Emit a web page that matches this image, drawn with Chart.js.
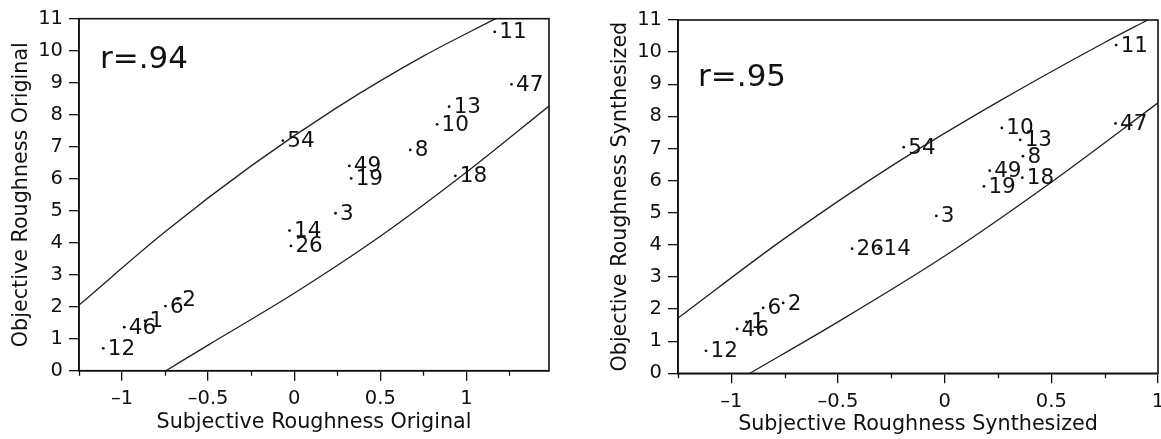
<!DOCTYPE html>
<html><head><meta charset="utf-8">
<script src="https://cdn.jsdelivr.net/npm/chart.js@4/dist/chart.umd.min.js"></script>
<style>
html,body{margin:0;padding:0;background:#fff;width:1161px;height:439px;overflow:hidden}
.box{position:absolute;top:0;height:439px}
#b1{left:0;width:580px}
#b2{left:580px;width:581px}
</style></head><body>
<div class="box" id="b1"><canvas id="c1"></canvas></div>
<div class="box" id="b2"><canvas id="c2"></canvas></div>
<script>
// ---------- data ----------
const LEFT_IDS = ['54','13','10','8','49','19','18','3','14','26','11','47','12','46','1','6','2'];
const LEFT_X   = [-0.066, 0.90, 0.83, 0.674, 0.32, 0.331, 0.936, 0.24, -0.027, -0.019, 1.165, 1.262, -1.109, -0.987, -0.866, -0.748, -0.676];
const LEFT_Y   = [7.19, 8.25, 7.70, 6.90, 6.40, 6.01, 6.09, 4.92, 4.38, 3.90, 10.59, 8.95, 0.70, 1.36, 1.56, 2.02, 2.23];

const RIGHT_IDS = ['54','13','10','8','49','19','18','3','14','26','11','47','12','46','1','6','2'];
const RIGHT_X   = [-0.192, 0.354, 0.268, 0.367, 0.211, 0.184, 0.364, -0.039, -0.308, -0.434, 0.804, 0.801, -1.119, -0.973, -0.929, -0.851, -0.757];
const RIGHT_Y   = [7.04, 7.27, 7.64, 6.76, 6.31, 5.82, 6.09, 4.90, 3.88, 3.88, 10.22, 7.78, 0.70, 1.38, 1.60, 2.04, 2.19];

const LEFT_UPPER_X = [-1.25, -0.75, -0.25, 0.25, 0.75, 1.17];
const LEFT_UPPER_Y = [2.05, 4.34, 6.4, 8.23, 9.83, 11.0];
const LEFT_LOWER_X = [-0.745, -0.5, 0, 0.5, 1.0, 1.48];
const LEFT_LOWER_Y = [0, 0.8, 2.42, 4.2, 6.2, 8.27];

const RIGHT_UPPER_X = [-1.25, -0.75, -0.25, 0.25, 0.75, 0.952];
const RIGHT_UPPER_Y = [1.72, 4.2, 6.45, 8.45, 10.3, 11.0];
const RIGHT_LOWER_X = [-0.913, -0.5, 0, 0.5, 1.0];
const RIGHT_LOWER_Y = [0, 1.6, 3.65, 5.95, 8.42];

const X_TICKS = [-1, -0.5, 0, 0.5, 1];
const X_TICK_LABELS = ['\u20131', '\u20130.5', '0', '0.5', '1'];
const X_MINOR = [-1.25, -0.75, -0.25, 0.25, 0.75, 1.25];
const Y_TICKS = [0,1,2,3,4,5,6,7,8,9,10,11];

const LEFT_R = {text: 'r=.94', x: -1.128, y: 9.71};
const RIGHT_R = {text: 'r=.95', x: -1.156, y: 9.2};

// ---------- helpers ----------
const FONT = "'DejaVu Sans', sans-serif";
const zip = (xs, ys) => xs.map((x, i) => ({x, y: ys[i]}));

const decorPlugin = {
  id: 'decor',
  afterDraw(chart) {
    const o = chart.options.plugins.decor;
    const ctx = chart.ctx, ca = chart.chartArea;
    const xs = chart.scales.x, ys = chart.scales.y;
    ctx.save();
    // frame
    ctx.strokeStyle = '#111'; ctx.lineWidth = 1.6;
    ctx.strokeRect(ca.left, ca.top, ca.right - ca.left, ca.bottom - ca.top);
    // minor ticks
    ctx.lineWidth = 1.3;
    ctx.beginPath();
    X_MINOR.forEach(v => {
      if (v < xs.min - 1e-9 || v > xs.max + 1e-9) return;
      const px = Math.round(xs.getPixelForValue(v)) + 0.5;
      ctx.moveTo(px, ca.bottom); ctx.lineTo(px, ca.bottom + 5);
    });
    ctx.stroke();
    // point labels
    ctx.fillStyle = '#111';
    ctx.font = '21.5px ' + FONT;
    ctx.textBaseline = 'middle'; ctx.textAlign = 'left';
    const meta = chart.getDatasetMeta(0);
    meta.data.forEach((el, i) => { ctx.fillText(o.ids[i], el.x + 4.5, el.y + 1); });
    // r annotation
    ctx.font = '31px ' + FONT;
    ctx.fillText(o.r.text, xs.getPixelForValue(o.r.x), ys.getPixelForValue(o.r.y));
    ctx.restore();
  }
};

function makeChart(id, cfg) {
  return new Chart(document.getElementById(id), {
    type: 'scatter',
    data: {
      datasets: [
        { data: zip(cfg.px, cfg.py), pointRadius: 1.4, pointHoverRadius: 1.4, backgroundColor: '#111', borderWidth: 0 },
        { type: 'line', data: zip(cfg.ux, cfg.uy), showLine: true, pointRadius: 0, borderColor: '#222', borderWidth: 1.3, cubicInterpolationMode: 'monotone', fill: false },
        { type: 'line', data: zip(cfg.lx, cfg.ly), showLine: true, pointRadius: 0, borderColor: '#222', borderWidth: 1.3, cubicInterpolationMode: 'monotone', fill: false }
      ]
    },
    options: {
      responsive: true, maintainAspectRatio: false, animation: false,
      events: [],
      layout: { padding: { left: 0, right: cfg.padRight, top: cfg.padTop, bottom: 0 } },
      plugins: { legend: { display: false }, tooltip: { enabled: false },
        decor: { ids: cfg.ids, r: cfg.r } },
      scales: {
        x: {
          type: 'linear', min: -1.25, max: cfg.xMax,
          afterBuildTicks: s => { s.ticks = X_TICKS.map(v => ({value: v})); },
          afterFit: s => { s.height = cfg.xH; s.paddingLeft = 0; s.paddingRight = 0; },
          ticks: { callback: (v) => { const i = X_TICKS.indexOf(v); return i >= 0 ? X_TICK_LABELS[i] : ''; },
                   font: { family: FONT, size: 19.5 }, color: '#111', padding: 6.5, maxRotation: 0, autoSkip: false },
          grid: { display: true, drawOnChartArea: false, drawTicks: true, tickLength: 10, color: '#111', lineWidth: 1.3 },
          border: { display: true, color: '#111', width: 1.6 },
          title: { display: true, text: cfg.xTitle, font: { family: FONT, size: 20.7 }, color: '#111', padding: { top: 0, bottom: cfg.xTitlePad } }
        },
        y: {
          type: 'linear', min: 0, max: 11,
          afterBuildTicks: s => { s.ticks = Y_TICKS.map(v => ({value: v})); },
          afterFit: s => { s.width = cfg.yW; s.paddingTop = 0; s.paddingBottom = 0; },
          ticks: { font: { family: FONT, size: 19.5 }, color: '#111', padding: 6, autoSkip: false },
          grid: { display: true, drawOnChartArea: false, drawTicks: true, tickLength: 10, color: '#111', lineWidth: 1.3 },
          border: { display: true, color: '#111', width: 1.6 },
          title: { display: true, text: cfg.yTitle, font: { family: FONT, size: 20.7 }, color: '#111', padding: { top: cfg.yTitlePad, bottom: 0 } }
        }
      }
    },
    plugins: [decorPlugin]
  });
}

makeChart('c1', {
  ids: LEFT_IDS, px: LEFT_X, py: LEFT_Y,
  ux: LEFT_UPPER_X, uy: LEFT_UPPER_Y, lx: LEFT_LOWER_X, ly: LEFT_LOWER_Y,
  r: LEFT_R, xMax: 1.48,
  padRight: 31, padTop: 18.7, xH: 68.3, yW: 79,
  xTitle: 'Subjective Roughness Original', yTitle: 'Objective Roughness Original',
  xTitlePad: 3.6, yTitlePad: 9
});
makeChart('c2', {
  ids: RIGHT_IDS, px: RIGHT_X, py: RIGHT_Y,
  ux: RIGHT_UPPER_X, uy: RIGHT_UPPER_Y, lx: RIGHT_LOWER_X, ly: RIGHT_LOWER_Y,
  r: RIGHT_R, xMax: 1.0,
  padRight: 3, padTop: 20, xH: 65.7, yW: 98,
  xTitle: 'Subjective Roughness Synthesized', yTitle: 'Objective Roughness Synthesized',
  xTitlePad: 1.5, yTitlePad: 28.6
});
</script>
</body></html>
